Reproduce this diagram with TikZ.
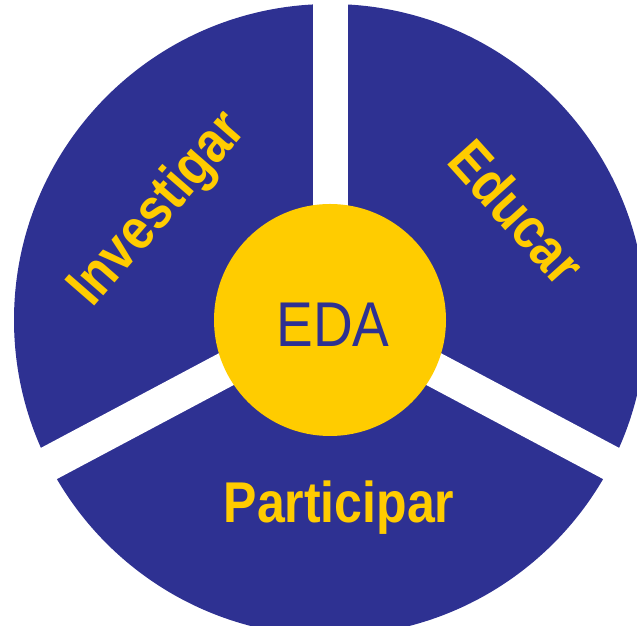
\documentclass[tikz,border=0pt]{standalone}
\usepackage{fontspec}
\setmainfont{Liberation Sans}
\usepackage{tikz}
\definecolor{edablue}{RGB}{46,49,146}
\definecolor{edayellow}{RGB}{255,204,0}

\begin{document}
\begin{tikzpicture}
  [x=1pt,y=1pt,
   word/.style={text=edayellow,inner sep=0pt,font=\fontsize{50}{60}\selectfont\bfseries},
   hub/.style={circle,fill=edayellow,minimum size=232pt,inner sep=0pt}]
  \useasboundingbox (0,0) rectangle (637,626);
  \clip (0,0) rectangle (637,626);
  \coordinate (o) at (330,306);
  \coordinate (g) at (330,312);
  \fill[edablue] (o) circle (316);

  \foreach \ang in {90,208,332}
    \draw[white,line width=35pt] (g) -- ++(\ang:400);

  \node[hub] (eda) at (o) {};
  \node[text=edablue,inner sep=0pt,font=\fontsize{55}{60}\selectfont] (edalbl) at (333,301) {\scalebox{1}[1.15]{EDA}};

  \node[word,rotate=49] (inv) at (159,416) {\scalebox{1}[1.15]{Investigar}};
  \node[word,rotate=-48] (edu) at (517,414) {\scalebox{1}[1.15]{Educar}};
  \node[word,anchor=base] (par) at (339,103) {\scalebox{1}[1.15]{Participar}};
\end{tikzpicture}
\end{document}
